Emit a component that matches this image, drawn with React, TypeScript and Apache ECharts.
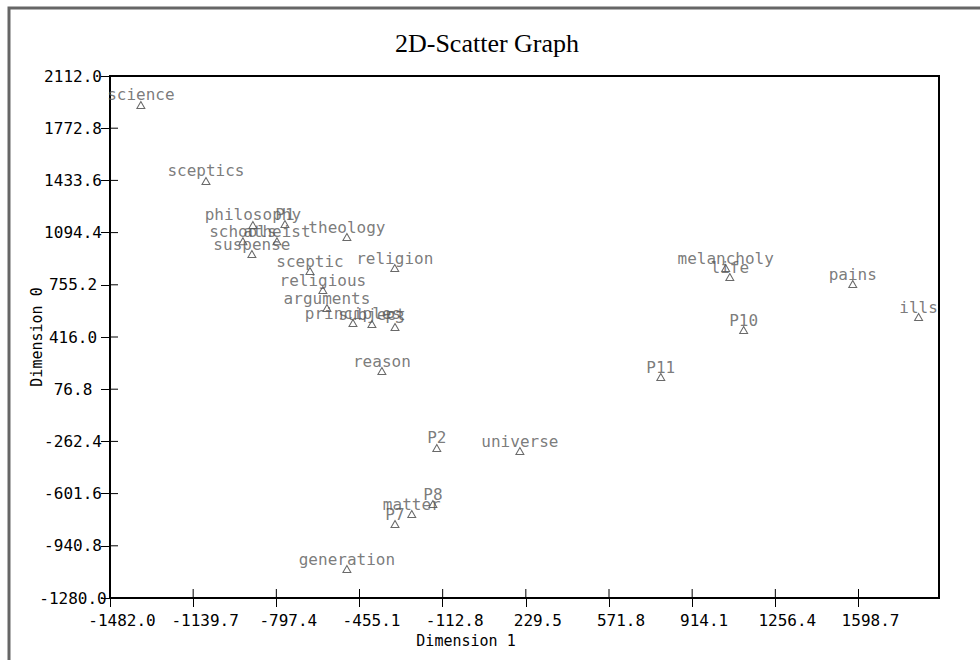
import React, { useEffect, useRef } from "react";
import * as echarts from "echarts";

const labels = [
  "science", "sceptics", "philosophy", "P1", "schools", "atheist", "suspense",
  "theology", "religion", "sceptic", "religious", "arguments", "principles",
  "subject", "P3", "reason", "P2", "universe", "P8", "matter", "P7",
  "generation", "melancholy", "life", "pains", "ills", "P10", "P11",
];
const dim1 = [
  -1355, -1087, -894, -762, -935, -795, -898,
  -507, -310, -659, -606, -589, -482,
  -404, -309, -363, -137, 205, -153, -240, -309,
  -507, 1052, 1069, 1575, 1846, 1126, 785,
];
const dim0 = [
  1924, 1430, 1144, 1150, 1038, 1038, 955,
  1066, 864, 845, 721, 604, 507,
  500, 481, 195, -305, -325, -669, -734, -799,
  -1092, 864, 806, 760, 546, 461, 156,
];
const xTicks = [-1482.0, -1139.7, -797.4, -455.1, -112.8, 229.5, 571.8, 914.1, 1256.4, 1598.7];
const yTicks = [-1280.0, -940.8, -601.6, -262.4, 76.8, 416.0, 755.2, 1094.4, 1433.6, 1772.8, 2112.0];

const MONO = "'DejaVu Sans Mono', monospace";
const GRID = { left: 110, right: 41, top: 76, bottom: 62 };
const X_MIN = -1482;
const X_MAX = 1930;
const Y_MIN = -1280;
const Y_MAX = 2112;

export default function App() {
  const ref = useRef<HTMLDivElement>(null);
  useEffect(() => {
    if (!ref.current) return;
    const chart = echarts.init(ref.current, null, { renderer: "svg" });
    const points = labels.map((n, i) => ({ name: n, value: [dim1[i], dim0[i]] }));
    chart.setOption({
      animation: false,
      backgroundColor: "#fff",
      grid: { ...GRID, show: true, borderColor: "#000", borderWidth: 2, backgroundColor: "transparent" },
      xAxis: {
        type: "value", min: X_MIN, max: X_MAX, interval: 342.3,
        position: "bottom",
        splitLine: { show: false },
        axisLine: { show: true, onZero: false, lineStyle: { color: "#000", width: 1.5 } },
        axisTick: { show: true, length: 9, customValues: xTicks, lineStyle: { color: "#000" } },
        axisLabel: {
          show: true, customValues: xTicks, color: "#000", fontFamily: MONO, fontSize: 16,
          margin: 14, padding: [0, 0, 0, 24],
          formatter: (v: number) => v.toFixed(1),
        },
      },
      yAxis: {
        type: "value", min: Y_MIN, max: Y_MAX, interval: 339.2,
        position: "left",
        splitLine: { show: false },
        axisLine: { show: true, onZero: false, lineStyle: { color: "#000", width: 1.5 } },
        axisTick: { show: true, length: 9, customValues: yTicks, lineStyle: { color: "#000" } },
        axisLabel: {
          show: true, customValues: yTicks, color: "#000", fontFamily: MONO, fontSize: 16,
          align: "center", margin: 37,
          formatter: (v: number) => v.toFixed(1),
        },
      },
      series: [
        {
          type: "custom",
          silent: true,
          clip: false,
          data: xTicks.map((v) => [v, Y_MIN]),
          renderItem: (params: any, api: any) => {
            const p = api.coord([api.value(0), Y_MIN]);
            return {
              type: "line",
              shape: { x1: p[0], y1: p[1] - 9, x2: p[0], y2: p[1] },
              style: { stroke: "#000", lineWidth: 1 },
            };
          },
        },
        {
          type: "custom",
          silent: true,
          clip: false,
          data: yTicks.map((v) => [X_MIN, v]),
          renderItem: (params: any, api: any) => {
            const p = api.coord([X_MIN, api.value(1)]);
            return {
              type: "line",
              shape: { x1: p[0], y1: p[1], x2: p[0] + 8, y2: p[1] },
              style: { stroke: "#000", lineWidth: 1 },
            };
          },
        },
        {
          type: "scatter",
          data: points,
          symbol: "triangle",
          symbolSize: [8, 7],
          itemStyle: { color: "#fff", borderColor: "#444", borderWidth: 1 },
          label: {
            show: true,
            position: "top",
            distance: -2,
            formatter: (p: any) => p.name,
            color: "#595959",
            fontFamily: MONO,
            fontSize: 16,
          },
          emphasis: { disabled: true },
        },
      ],
      graphic: [
        {
          type: "polyline",
          shape: { points: [[9, 660], [9, 8], [980, 8]] },
          style: { stroke: "#666", lineWidth: 3, fill: "none" },
          silent: true,
        },
        {
          type: "text",
          x: 487, y: 43,
          style: {
            text: "2D-Scatter Graph", fill: "#000",
            font: "26px 'Liberation Serif', serif",
            textAlign: "center", textVerticalAlign: "middle",
          },
        },
        {
          type: "text",
          x: 466, y: 641,
          style: {
            text: "Dimension 1", fill: "#000", font: `15px ${MONO}`,
            textAlign: "center", textVerticalAlign: "middle",
          },
        },
        {
          type: "text",
          x: 37, y: 337, rotation: Math.PI / 2,
          style: {
            text: "Dimension 0", fill: "#000", font: `15px ${MONO}`,
            textAlign: "center", textVerticalAlign: "middle",
          },
        },
      ],
    });
    return () => chart.dispose();
  }, []);
  return (
    <div
      ref={ref}
      style={{ position: "fixed", left: 0, top: 0, width: 980, height: 660, background: "#fff" }}
    />
  );
}
